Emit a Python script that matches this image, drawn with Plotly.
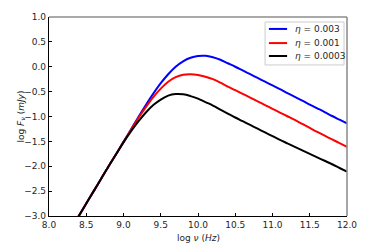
import plotly.graph_objects as go

log_nu = [8.0, 8.1, 8.2, 8.3, 8.4, 8.5, 8.6, 8.7, 8.8, 8.9,
          9.0, 9.1, 9.2, 9.3, 9.4, 9.5, 9.6, 9.7, 9.8, 9.9,
          10.0, 10.1, 10.2, 10.3, 10.4, 10.5, 10.6, 10.7, 10.8, 10.9,
          11.0, 11.1, 11.2, 11.3, 11.4, 11.5, 11.6, 11.7, 11.8, 11.9, 12.0]

rise = [-4.0, -3.75, -3.5, -3.25, -3.0, -2.75, -2.5, -2.25, -2.0, -1.76]

flux_eta_0003 = rise + [-1.51, -1.26, -1.01, -0.77, -0.54, -0.33, -0.15, 0.0, 0.11, 0.18,
                        0.215, 0.22, 0.19, 0.14, 0.07, 0.0, -0.075, -0.15, -0.225, -0.30,
                        -0.375, -0.45, -0.53, -0.605, -0.68, -0.76, -0.835, -0.91, -0.99, -1.065, -1.14]

flux_eta_0001 = rise + [-1.51, -1.27, -1.03, -0.81, -0.61, -0.44, -0.30, -0.21, -0.16, -0.15,
                        -0.165, -0.20, -0.25, -0.32, -0.40, -0.47, -0.545, -0.62, -0.695, -0.77,
                        -0.845, -0.92, -0.995, -1.07, -1.15, -1.23, -1.31, -1.385, -1.46, -1.535, -1.61]

flux_eta_00003 = rise + [-1.52, -1.30, -1.10, -0.92, -0.77, -0.66, -0.58, -0.55, -0.555, -0.59,
                         -0.64, -0.71, -0.78, -0.86, -0.94, -1.02, -1.095, -1.17, -1.245, -1.32,
                         -1.395, -1.47, -1.54, -1.61, -1.68, -1.75, -1.82, -1.89, -1.96, -2.035, -2.11]

series_labels = ["<i>η</i> = 0.003", "<i>η</i> = 0.001", "<i>η</i> = 0.0003"]
series_values = [flux_eta_0003, flux_eta_0001, flux_eta_00003]
series_colors = ["#0000ff", "#ff0000", "#000000"]

x_ticks = [8.0, 8.5, 9.0, 9.5, 10.0, 10.5, 11.0, 11.5, 12.0]
y_ticks = [1.0, 0.5, 0.0, -0.5, -1.0, -1.5, -2.0, -2.5, -3.0]

x_title = "log <i>ν</i> (<i>Hz</i>)"
y_title = "log <i>F<sub>ν</sub></i> (<i>mJy</i>)"

fig = go.Figure()
for lab, vals, col in zip(series_labels, series_values, series_colors):
    fig.add_trace(go.Scatter(x=log_nu, y=vals, mode="lines", name=lab, showlegend=False,
                             line=dict(color=col, width=2, shape="spline", smoothing=1.0)))

txt = dict(family="DejaVu Sans", size=9, color="#262626")

# the page body has an 8px default margin, so the figure is sized/margined to compensate
fig.update_layout(
    width=366, height=241,
    margin=dict(l=41, r=27, t=9, b=33, autoexpand=False),
    paper_bgcolor="white", plot_bgcolor="white",
    font=txt,
    showlegend=False,
    xaxis=dict(range=[8.0, 12.0], tickvals=x_ticks,
               ticktext=[f"{v:.1f}" for v in x_ticks],
               ticks="inside", ticklen=3, tickwidth=1, tickcolor="#000000",
               showline=True, linecolor="#000000", linewidth=1.2,
               showgrid=False, zeroline=False, automargin=False),
    yaxis=dict(range=[-3.0, 1.0], tickvals=y_ticks,
               ticktext=[f"{v:.1f}".replace("-", "−") for v in y_ticks],
               ticks="inside", ticklen=3, tickwidth=1, tickcolor="#000000",
               showline=True, linecolor="#000000", linewidth=1.2,
               showgrid=False, zeroline=False, automargin=False),
)

fig.add_annotation(text=x_title, xref="paper", yref="paper", x=0.5, y=0,
                   yshift=-22, showarrow=False, font=txt, xanchor="center", yanchor="middle")
fig.add_annotation(text=y_title, xref="paper", yref="paper", x=0, y=0.5,
                   xshift=-28, showarrow=False, font=txt, textangle=-90,
                   xanchor="center", yanchor="middle")

# top and right frame lines (lighter than left/bottom)
fig.add_shape(type="line", xref="paper", yref="paper", x0=0, x1=1, y0=1, y1=1,
              line=dict(color="#555555", width=1.2))
fig.add_shape(type="line", xref="paper", yref="paper", x0=1, x1=1, y0=0, y1=1,
              line=dict(color="#888888", width=1.5))

# compact legend box in the upper right, as in the reference
fig.add_shape(type="rect", xref="paper", yref="paper", x0=0.725, x1=0.990, y0=0.759, y1=0.975,
              line=dict(color="#cccccc", width=1), fillcolor="rgba(255,255,255,0.9)")
leg_y = [0.940, 0.869, 0.804]
for lab, col, yy in zip(series_labels, series_colors, leg_y):
    fig.add_shape(type="line", xref="paper", yref="paper", x0=0.738, x1=0.799, y0=yy, y1=yy,
                  line=dict(color=col, width=2))
    fig.add_annotation(text=lab, xref="paper", yref="paper", x=0.820, y=yy,
                       showarrow=False, xanchor="left", yanchor="middle",
                       font=dict(family="DejaVu Sans", size=9, color="#262626"))

fig.write_html("out.html")
